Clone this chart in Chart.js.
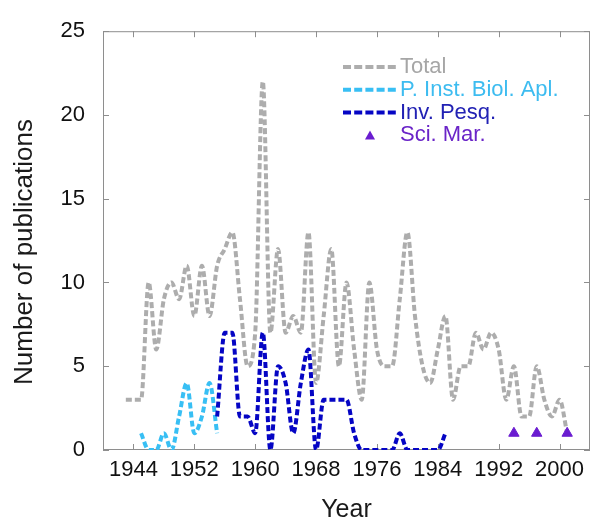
<!DOCTYPE html>
<html>
<head>
<meta charset="utf-8">
<script src="https://cdn.jsdelivr.net/npm/chart.js@4.4.0/dist/chart.umd.min.js"></script>
<style>
  html, body { margin: 0; padding: 0; background: #fff; }
  #pubChart { display: block; }
</style>
</head>
<body>
<canvas id="pubChart" width="600" height="520"></canvas>
<script>
// values
var totalYears = [1943, 1944, 1945, 1946, 1947, 1948, 1949, 1950, 1951, 1952,
    1953, 1954, 1955, 1956, 1957, 1958, 1959, 1960, 1961, 1962,
    1963, 1964, 1965, 1966, 1967, 1968, 1969, 1970, 1971, 1972,
    1973, 1974, 1975, 1976, 1977, 1978, 1979, 1980, 1981, 1982,
    1983, 1984, 1985, 1986, 1987, 1988, 1989, 1990, 1991, 1992,
    1993, 1994, 1995, 1996, 1997, 1998, 1999, 2000, 2001];
var totalCounts = [3, 3, 3, 10, 6, 9, 10, 9, 11, 8,
    11, 8, 11, 12, 13, 9, 5, 7, 22, 7,
    12, 7, 8, 7, 13, 4, 8, 12, 5, 10,
    6, 3, 10, 6, 5, 5, 9, 13, 8, 5,
    4, 6, 8, 3, 5, 5, 7, 6, 7, 6,
    3, 5, 2, 2, 5, 3, 2, 3, 1];

var biolYears = [1945, 1946, 1947, 1948, 1949, 1950, 1951, 1952, 1953, 1954, 1955];
var biolCounts = [1, 0, 0, 1, 0, 2, 4, 1, 2, 4, 1];

var pesqYears = [1955, 1956, 1957, 1958, 1959, 1960, 1961, 1962, 1963, 1964,
    1965, 1966, 1967, 1968, 1969, 1970, 1971, 1972, 1973, 1974,
    1975, 1976, 1977, 1978, 1979, 1980, 1981, 1982, 1983, 1984, 1985];
var pesqCounts = [2, 7, 7, 2, 2, 1, 7, 0, 5, 4,
    1, 4, 6, 0, 3, 3, 3, 3, 1, 0,
    0, 0, 0, 0, 1, 0, 0, 0, 0, 0, 1];

var sciYears = [1994, 1997, 2001];
var sciCounts = [1, 1, 1];

var yearTicks = [1944, 1952, 1960, 1968, 1976, 1984, 1992, 2000];

var fontFamily = '"Liberation Sans", Arial, Helvetica, sans-serif';

function toPoints(xs, ys) {
    return xs.map(function (x, i) { return { x: x, y: ys[i] }; });
}

// box round the plot, ticks pointing inwards on all four sides
var framePlugin = {
    id: 'frame',
    beforeDatasetsDraw: function (chart) {
        var ctx = chart.ctx;
        var a = chart.chartArea;
        var xs = chart.scales.x;
        var ys = chart.scales.y;
        ctx.save();
        ctx.strokeStyle = '#8e8e8e';
        ctx.lineWidth = 1;
        ctx.strokeRect(a.left + 0.5, a.top + 0.5, a.right - a.left - 1, a.bottom - a.top - 1);
        ctx.beginPath();
        xs.ticks.forEach(function (t) {
            var px = Math.round(xs.getPixelForValue(t.value)) + 0.5;
            ctx.moveTo(px, a.bottom); ctx.lineTo(px, a.bottom - 6);
            ctx.moveTo(px, a.top); ctx.lineTo(px, a.top + 6);
        });
        ys.ticks.forEach(function (t) {
            var py = Math.round(ys.getPixelForValue(t.value)) + 0.5;
            ctx.moveTo(a.left, py); ctx.lineTo(a.left + 6, py);
            ctx.moveTo(a.right, py); ctx.lineTo(a.right - 6, py);
        });
        ctx.stroke();
        ctx.restore();
    }
};

// legend drawn inside the plot, top right
var legendPlugin = {
    id: 'insideLegend',
    afterDatasetsDraw: function (chart) {
        var ctx = chart.ctx;
        ctx.save();
        ctx.font = '22px ' + fontFamily;
        ctx.textBaseline = 'middle';
        ctx.textAlign = 'left';
        chart.data.datasets.forEach(function (ds, i) {
            var rowY = 67 + i * 22.8;
            if (ds.showLine === false) {
                ctx.fillStyle = ds.backgroundColor;
                ctx.beginPath();
                ctx.moveTo(370, rowY - 5);
                ctx.lineTo(375, rowY + 4);
                ctx.lineTo(365, rowY + 4);
                ctx.closePath();
                ctx.fill();
            } else {
                ctx.strokeStyle = ds.borderColor;
                ctx.lineWidth = 4;
                ctx.setLineDash([8, 3.2]);
                ctx.beginPath();
                ctx.moveTo(343, rowY);
                ctx.lineTo(399, rowY);
                ctx.stroke();
                ctx.setLineDash([]);
            }
            ctx.fillStyle = ds.textColor;
            ctx.fillText(ds.label, 400, rowY);
        });
        ctx.restore();
    }
};

// y axis title, placed where the original has it
var yTitlePlugin = {
    id: 'yTitle',
    afterDraw: function (chart) {
        var ctx = chart.ctx;
        ctx.save();
        ctx.translate(25, 252);
        ctx.rotate(-Math.PI / 2);
        ctx.font = '26px ' + fontFamily;
        ctx.fillStyle = '#1a1a1a';
        ctx.textAlign = 'center';
        ctx.textBaseline = 'middle';
        ctx.fillText('Number of publications', 0, 0);
        ctx.restore();
    }
};

var lineStyle = {
    borderWidth: 4,
    borderDash: [6, 3],
    pointRadius: 0,
    cubicInterpolationMode: 'monotone',
    fill: false
};

new Chart(document.getElementById('pubChart'), {
    type: 'line',
    data: {
        datasets: [
            Object.assign({
                label: 'Total',
                data: toPoints(totalYears, totalCounts),
                borderColor: '#adadad',
                textColor: '#a6a6a6',
                order: 4
            }, lineStyle),
            Object.assign({
                label: 'P. Inst. Biol. Apl.',
                data: toPoints(biolYears, biolCounts),
                borderColor: '#38bff4',
                textColor: '#3dbcf0',
                order: 3
            }, lineStyle),
            Object.assign({
                label: 'Inv. Pesq.',
                data: toPoints(pesqYears, pesqCounts),
                borderColor: '#0505c4',
                textColor: '#2222b4',
                order: 2
            }, lineStyle),
            {
                label: 'Sci. Mar.',
                data: toPoints(sciYears, sciCounts),
                showLine: false,
                pointStyle: 'triangle',
                pointRadius: 6,
                backgroundColor: '#6a1cd0',
                borderColor: '#6a1cd0',
                textColor: '#6a24c8',
                order: 1
            }
        ]
    },
    options: {
        responsive: false,
        animation: false,
        devicePixelRatio: 1,
        layout: {
            padding: { top: 26, right: 10, left: 0, bottom: 0 }
        },
        scales: {
            x: {
                type: 'linear',
                min: 1940,
                max: 2004,
                afterBuildTicks: function (scale) {
                    scale.ticks = yearTicks.map(function (v) { return { value: v }; });
                },
                afterFit: function (scale) {
                    scale.height = 70;
                },
                grid: { display: false, drawTicks: false },
                border: { display: false },
                ticks: {
                    autoSkip: false,
                    maxRotation: 0,
                    padding: 7,
                    color: '#111',
                    font: { size: 22, family: fontFamily },
                    callback: function (v) { return String(v); }
                },
                title: {
                    display: true,
                    text: 'Year',
                    color: '#1a1a1a',
                    font: { size: 25, family: fontFamily, lineHeight: 1 },
                    padding: { top: 0, bottom: -3 }
                }
            },
            y: {
                min: 0,
                max: 25,
                afterFit: function (scale) {
                    scale.width = 103;
                },
                grid: { display: false, drawTicks: false },
                border: { display: false },
                ticks: {
                    stepSize: 5,
                    padding: 18,
                    color: '#111',
                    font: { size: 22, family: fontFamily }
                }
            }
        },
        plugins: {
            legend: { display: false },
            tooltip: { enabled: false }
        }
    },
    plugins: [framePlugin, legendPlugin, yTitlePlugin]
});
</script>
</body>
</html>
